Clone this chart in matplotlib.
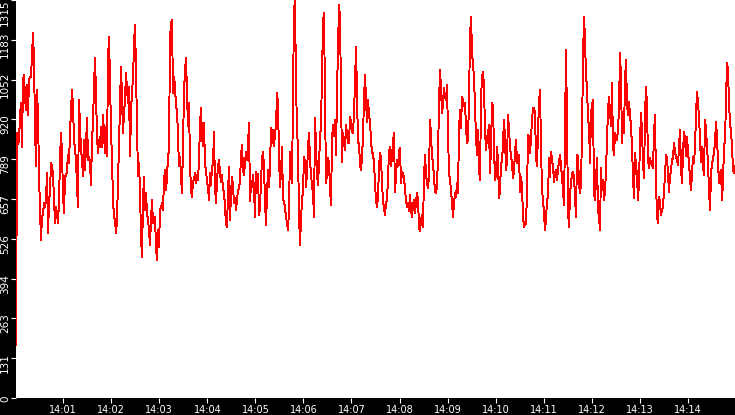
import matplotlib
matplotlib.use("Agg")
import matplotlib.pyplot as plt
import matplotlib.dates as mdates
import matplotlib.transforms as mtransforms
import pandas as pd

# time window of the trace
t_start = "2024-01-01 14:00:01"
t_end = "2024-01-01 14:14:59"

# readings, 14:00 - 14:03:40
vals_a = [175, 875, 840, 850, 930, 975, 830, 1050, 1067, 996, 952, 1034, 935, 1050, 1062, 1062, 1133, 1205, 1117, 897,
          765, 1018, 930, 743, 621, 522, 599, 610, 643, 632, 654, 743, 544, 643, 687, 776, 765, 737, 654, 577,
          632, 610, 577, 654, 787, 875, 809, 676, 610, 732, 732, 754, 803, 776, 875, 952, 1018, 963, 853, 820,
          787, 698, 632, 985, 897, 820, 787, 732, 853, 754, 830, 924, 787, 798, 776, 704, 853, 908, 1034, 1122,
          1007, 864, 809, 853, 830, 897, 830, 935, 875, 809, 897, 798, 1117, 1194, 1050, 886, 787, 654, 599, 588,
          544, 588, 720, 830, 974, 1095, 996, 875, 941, 985, 1073, 1023, 974, 1029, 798, 941, 1018, 1050, 1172, 1232,
          1084, 897, 732, 776, 687, 533, 467, 654, 732, 621, 676, 610, 588, 555, 506, 588, 654, 577, 588, 599,
          500, 456, 555, 500, 621, 632, 643, 621, 720, 754, 687, 732, 798, 820, 1183, 1238, 1249, 1007, 1062, 1029,
          963, 952, 864, 765, 798, 732, 676, 842, 1007, 1084, 1122, 1007, 897, 974, 776, 687, 665, 715]

# 14:03:40 - 14:07:20
vals_b = [720, 742, 709, 737, 720, 787, 902, 957, 864, 831, 908, 770, 753, 715, 698, 654, 742, 704, 765, 770,
          880, 698, 643, 720, 765, 787, 742, 715, 737, 687, 682, 632, 577, 566, 676, 765, 588, 676, 731, 698,
          643, 660, 621, 654, 687, 693, 720, 798, 836, 753, 737, 776, 814, 787, 836, 908, 649, 709, 698, 737,
          687, 599, 748, 676, 742, 605, 627, 720, 787, 814, 765, 649, 572, 676, 753, 698, 765, 891, 842, 886,
          831, 875, 897, 1007, 974, 798, 698, 742, 831, 654, 649, 627, 599, 577, 555, 621, 814, 776, 709, 985,
          1282, 1315, 1029, 897, 814, 610, 506, 588, 654, 682, 798, 781, 698, 742, 831, 875, 787, 737, 704, 676,
          599, 924, 831, 742, 704, 776, 853, 908, 1062, 1243, 1271, 985, 709, 742, 792, 776, 693, 638, 853, 902,
          864, 919, 803, 1012, 1155, 1298, 1260, 1001, 781, 875, 853, 820, 902, 875, 842, 842, 930, 913, 880, 875,
          941, 1040, 1161, 996, 842, 842, 770, 753, 798, 864, 990, 1067, 985, 913, 985, 935]

# 14:07:20 - 14:11:05
vals_c = [913, 853, 809, 809, 776, 709, 654, 632, 665, 759, 809, 792, 709, 654, 627, 605, 643, 654, 726, 814,
          831, 765, 798, 847, 875, 682, 731, 787, 765, 814, 825, 709, 748, 742, 731, 687, 654, 632, 643, 616,
          671, 621, 599, 638, 654, 610, 649, 676, 654, 566, 550, 588, 605, 566, 731, 803, 742, 709, 693, 737,
          919, 869, 798, 776, 731, 682, 676, 704, 798, 974, 1084, 1023, 941, 974, 1023, 996, 985, 1034, 875, 742,
          720, 687, 643, 599, 643, 676, 665, 709, 676, 886, 952, 891, 996, 985, 963, 974, 897, 842, 853, 985,
          1188, 1260, 1144, 1100, 1062, 963, 864, 803, 886, 753, 720, 985, 1062, 1078, 1029, 886, 820, 858, 875, 902,
          742, 831, 974, 963, 825, 720, 737, 831, 781, 660, 687, 776, 781, 842, 919, 858, 753, 781, 935, 886,
          831, 798, 776, 726, 753, 809, 853, 776, 792, 803, 682, 731, 698, 599, 566, 572, 577, 676, 869, 864,
          809, 858, 919, 957, 957, 941, 798, 765, 880, 974, 1018, 831, 687, 654, 610, 555, 588, 654, 665, 792,
          731]

# 14:11:05 - 14:15:00
vals_d = [814, 787, 765, 715, 742, 753, 720, 753, 781, 803, 765, 731, 682, 638, 875, 1150, 913, 621, 566, 676,
          709, 742, 748, 731, 665, 599, 803, 798, 709, 676, 709, 875, 1117, 1260, 1183, 1062, 1029, 919, 902, 776,
          941, 968, 985, 676, 654, 726, 792, 621, 599, 555, 759, 687, 720, 654, 682, 753, 858, 952, 996, 946,
          897, 1040, 831, 803, 875, 864, 853, 886, 957, 1139, 1056, 842, 902, 875, 1051, 1117, 968, 935, 979, 935,
          897, 831, 731, 660, 809, 770, 737, 654, 715, 847, 941, 880, 776, 726, 935, 1029, 963, 787, 759, 792,
          776, 770, 759, 875, 935, 715, 599, 577, 665, 649, 605, 621, 632, 682, 737, 803, 792, 742, 682, 731,
          753, 787, 792, 842, 814, 798, 787, 770, 831, 886, 759, 709, 809, 880, 853, 798, 864, 814, 776, 726,
          687, 742, 798, 776, 831, 935, 1012, 974, 930, 853, 781, 831, 765, 737, 919, 886, 831, 776, 687, 621,
          742, 776, 787, 814, 842, 913, 864, 776, 709, 742, 753, 654, 715, 831, 853, 985, 1106, 1084, 974, 908,
          880, 831, 753, 742, 765]

ytick_vals = [0, 131.5, 263, 394.5, 526, 657.5, 789, 920.5, 1052, 1183.5, 1315]
ytick_labels = ["0", "131", "263", "394", "526", "657", "789", "920", "1052", "1183", "1315"]

values = vals_a + vals_b + vals_c + vals_d
times = pd.date_range(t_start, t_end, periods=len(values))

W, H = 735, 415
fig = plt.figure(figsize=(W / 100, H / 100), dpi=100, facecolor="black")
ax = fig.add_axes([16 / W, 17 / H, 719 / W, 398 / H])
ax.set_facecolor("white")

ax.plot(times, values, color="red", lw=0.7, antialiased=False)

ax.set_xlim(pd.Timestamp(t_start), pd.Timestamp(t_end))
ax.set_ylim(0, 1315)
ax.xaxis.set_major_locator(mdates.MinuteLocator())
ax.xaxis.set_major_formatter(mdates.DateFormatter("%H:%M"))
ax.set_yticks(ytick_vals)
ax.set_yticklabels(ytick_labels, rotation=90, va="center")

for s in ax.spines.values():
    s.set_visible(False)

ax.tick_params(axis="both", colors="white", length=3.6, width=0.8, direction="out")
ax.tick_params(axis="y", labelsize=7.5, pad=0.8)
ax.tick_params(axis="x", labelsize=7, pad=1.2)

# the rotated labels sit a bit below their ticks; ends are kept inside
for lbl in ax.get_yticklabels():
    txt = lbl.get_text()
    dy = 5
    if txt == "0":
        dy = 1
    elif txt == "1315":
        dy = 13
    lbl.set_transform(lbl.get_transform() + mtransforms.ScaledTranslation(0, -dy / 100, fig.dpi_scale_trans))

fig.savefig("out.png", dpi=100, facecolor="black")
